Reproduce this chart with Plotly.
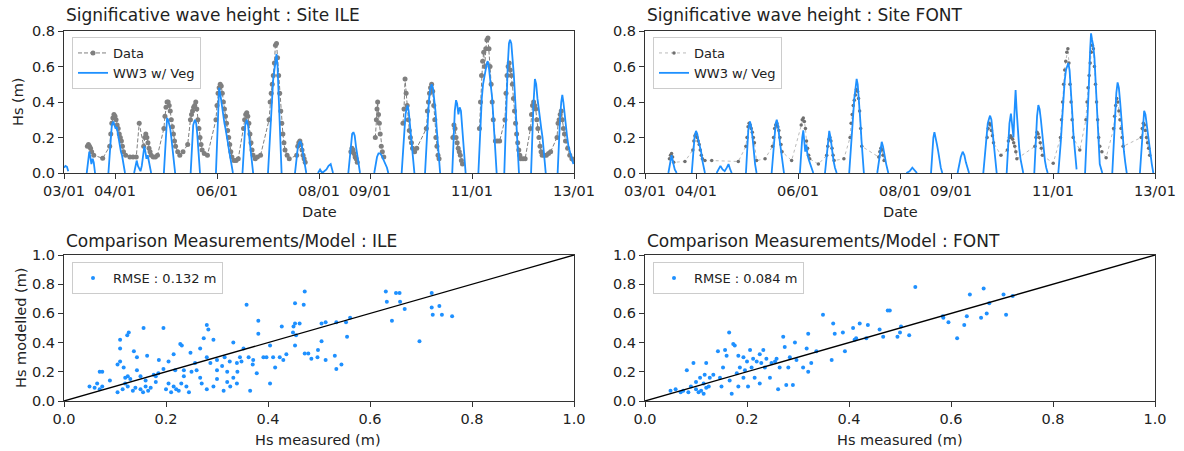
import plotly.graph_objects as go
import pandas as pd

# ---------------- DATA ----------------
# hours after 03/01 00:00, value (m)
ile_model = [
    [(0, 0.03), (0.7, 0.04), (1.4, 0.035), (2, 0.01)],
    [(10.7, 0.0), (11.3, 0.06), (11.9, 0.12), (12.4, 0.09), (12.9, 0.05), (13.5, 0.08), (14, 0.06), (14.6, 0.0)],
    [(20.9, 0.0), (21.5, 0.1), (22, 0.2), (22.5, 0.27), (23.2, 0.29), (23.8, 0.27), (24.3, 0.25), (24.8, 0.26),
     (25.3, 0.22), (25.8, 0.2), (26.3, 0.15), (26.8, 0.12), (27.3, 0.1), (27.8, 0.06), (28.4, 0.02), (28.7, 0.0)],
    [(33, 0.0), (33.5, 0.03), (34.2, 0.07), (34.8, 0.04), (35.4, 0.02), (36, 0.01), (36.6, 0.04), (37.2, 0.1),
     (37.8, 0.15), (38.3, 0.12), (38.8, 0.08), (39.4, 0.1), (40, 0.06), (40.6, 0.03), (41, 0.0)],
    [(47, 0.0), (47.5, 0.12), (48, 0.25), (48.5, 0.31), (49, 0.3), (49.5, 0.28), (50, 0.25), (50.5, 0.2),
     (51, 0.15), (51.5, 0.1), (52, 0.04), (52.3, 0.0)],
    [(59.6, 0.0), (60.2, 0.15), (60.8, 0.27), (61.6, 0.3), (62.2, 0.28), (62.7, 0.22), (63.2, 0.15), (63.6, 0.08), (64, 0.0)],
    [(71.5, 0.0), (72, 0.2), (72.5, 0.38), (73, 0.48), (73.5, 0.45), (74, 0.4), (74.5, 0.35), (75, 0.33), (75.5, 0.28),
     (76, 0.25), (76.5, 0.2), (77, 0.18), (77.5, 0.14), (78, 0.1), (78.5, 0.08), (79, 0.04), (79.5, 0.0)],
    [(84, 0.0), (84.6, 0.15), (85.3, 0.27), (86, 0.3), (86.6, 0.27), (87.2, 0.2), (87.8, 0.12), (88.4, 0.06), (89, 0.0)],
    [(96, 0.0), (96.6, 0.15), (97.2, 0.3), (97.8, 0.42), (98.4, 0.52), (99, 0.58), (99.5, 0.62), (100, 0.67),
     (100.5, 0.6), (101, 0.45), (101.5, 0.3), (102, 0.12), (102.4, 0.0)],
    [(108.7, 0.0), (109.3, 0.08), (110, 0.14), (110.6, 0.17), (111.2, 0.18), (111.8, 0.16), (112.4, 0.12),
     (113, 0.08), (113.6, 0.04), (114, 0.0)],
    [(119.5, 0.0), (120.5, 0.02), (121.5, 0.0), (123.5, 0.02), (124.5, 0.04), (125.5, 0.05), (126.6, 0.0)],
    [(133.8, 0.0), (134.4, 0.08), (135, 0.17), (135.6, 0.22), (136.2, 0.23), (136.8, 0.21), (137.4, 0.15),
     (138, 0.1), (138.7, 0.05), (139.3, 0.0)],
    [(146, 0.0), (146.6, 0.05), (147.3, 0.09), (148, 0.11), (148.7, 0.11), (149.4, 0.1), (150.1, 0.08),
     (150.8, 0.07), (151.5, 0.05), (152, 0.03), (152.6, 0.0)],
    [(158.9, 0.0), (159.5, 0.12), (160.1, 0.25), (160.7, 0.33), (161.2, 0.36), (161.7, 0.38), (162.2, 0.35),
     (162.7, 0.28), (163.2, 0.2), (163.7, 0.12), (164.3, 0.05), (164.9, 0.0)],
    [(169.9, 0.0), (170.5, 0.15), (171.1, 0.3), (171.7, 0.4), (172.3, 0.47), (173, 0.5), (173.6, 0.48),
     (174.2, 0.42), (174.8, 0.35), (175.4, 0.25), (176, 0.15), (176.5, 0.07), (177, 0.0)],
    [(182.7, 0.0), (183.3, 0.2), (183.9, 0.35), (184.5, 0.41), (185, 0.39), (185.6, 0.33), (186.2, 0.37),
     (186.8, 0.35), (187.4, 0.25), (188, 0.15), (188.5, 0.06), (189, 0.0)],
    [(195, 0.0), (195.5, 0.15), (196, 0.3), (196.6, 0.42), (197.2, 0.5), (197.8, 0.55), (198.4, 0.58), (199, 0.62),
     (199.4, 0.63), (199.9, 0.6), (200.4, 0.55), (200.9, 0.5), (201.5, 0.42), (202.1, 0.3), (202.7, 0.18),
     (203.2, 0.08), (203.6, 0.0)],
    [(207.2, 0.0), (207.7, 0.2), (208.2, 0.4), (208.8, 0.6), (209.4, 0.73), (209.9, 0.75), (210.5, 0.73),
     (211.1, 0.65), (211.7, 0.55), (212.3, 0.42), (212.9, 0.3), (213.5, 0.15), (214.1, 0.0)],
    [(219.8, 0.0), (220.3, 0.2), (220.9, 0.38), (221.6, 0.53), (222.2, 0.5), (222.8, 0.42), (223.4, 0.35),
     (224, 0.3), (224.6, 0.25), (225.2, 0.2), (225.8, 0.12), (226.3, 0.05), (226.7, 0.0)],
    [(232.3, 0.0), (232.8, 0.15), (233.4, 0.3), (234, 0.4), (234.5, 0.44), (235, 0.4), (235.6, 0.32),
     (236.2, 0.25), (236.8, 0.2), (237.4, 0.15), (238, 0.12), (238.6, 0.1), (239.2, 0.07), (239.7, 0.05)],
]

ile_data = [
    [(11, 0.15), (11.5, 0.16), (12, 0.15), (12.5, 0.14), (13, 0.12), (14, 0.1), (18.2, 0.083), (21.5, 0.15),
     (22, 0.22), (22.5, 0.28), (23, 0.31), (23.5, 0.33), (24, 0.32), (24.5, 0.3), (25, 0.27), (25.5, 0.25),
     (26, 0.22), (26.5, 0.2), (27, 0.18), (27.5, 0.15), (28, 0.12), (29, 0.1), (31, 0.09), (32.5, 0.09),
     (34, 0.09), (35.4, 0.28), (37.5, 0.15), (38, 0.2), (38.5, 0.22), (39, 0.2), (39.5, 0.17), (40, 0.14),
     (40.5, 0.12), (41, 0.1), (42, 0.09), (43, 0.09), (44, 0.1), (47, 0.25), (47.5, 0.32), (48, 0.37),
     (48.5, 0.4), (49, 0.4), (49.5, 0.38), (50, 0.35), (50.5, 0.3), (51, 0.26), (51.5, 0.22), (52, 0.18),
     (52.5, 0.15), (53.5, 0.12), (54.5, 0.1), (56, 0.12), (58.2, 0.16), (59.5, 0.3), (60, 0.33), (60.5, 0.35),
     (61, 0.37), (61.5, 0.38), (62, 0.4), (62.5, 0.36), (63, 0.3), (63.5, 0.25), (64, 0.2), (64.5, 0.16),
     (65, 0.13), (66, 0.11), (67.5, 0.1), (71.5, 0.3), (72, 0.38), (72.5, 0.45), (73, 0.48), (73.5, 0.5),
     (74, 0.49), (74.5, 0.45), (75, 0.4), (75.5, 0.36), (76, 0.32), (76.5, 0.28), (77, 0.24), (77.5, 0.2),
     (78, 0.16), (78.5, 0.12), (79, 0.09), (80, 0.07), (81, 0.07), (82, 0.08), (84.5, 0.25), (85, 0.3),
     (85.5, 0.33), (86, 0.34), (86.5, 0.32), (87, 0.28), (87.5, 0.22), (88, 0.17), (88.5, 0.13), (89, 0.1),
     (90, 0.08), (91, 0.09), (92.5, 0.1), (96.5, 0.3), (97, 0.4), (97.5, 0.45), (98, 0.5), (98.5, 0.55),
     (99, 0.62), (99.5, 0.72), (100, 0.73), (100.5, 0.65), (101, 0.55), (101.5, 0.45), (102, 0.35),
     (102.5, 0.28), (103, 0.22), (103.5, 0.17), (104, 0.13), (105, 0.1), (106, 0.08), (109.5, 0.1),
     (110, 0.15), (110.5, 0.17), (111, 0.18), (111.5, 0.16), (112, 0.13), (112.5, 0.1), (113, 0.08), (113.5, 0.06)],
    [(135, 0.12), (135.5, 0.14), (136, 0.13), (136.5, 0.11), (137, 0.09), (137.5, 0.08), (138, 0.06)],
    [(146.5, 0.2), (147, 0.3), (147.3, 0.36), (147.6, 0.4), (148, 0.33), (148.4, 0.28), (148.8, 0.22),
     (149.3, 0.15), (149.8, 0.12), (150.5, 0.09)],
    [(159.5, 0.28), (160, 0.36), (160.5, 0.53), (161, 0.45), (161.5, 0.38), (162, 0.3), (162.5, 0.24),
     (163, 0.2), (163.5, 0.17), (164, 0.14), (165, 0.12), (166, 0.14), (170.5, 0.25), (171, 0.35), (171.5, 0.4),
     (172, 0.45), (172.5, 0.48), (173, 0.5), (173.5, 0.46), (174, 0.38), (174.5, 0.3), (175, 0.2), (175.5, 0.15),
     (176, 0.1), (176.5, 0.08)],
    [(183, 0.2), (183.5, 0.27), (184, 0.25), (184.5, 0.2), (185, 0.17), (185.5, 0.14), (186, 0.12),
     (186.5, 0.1), (187, 0.07), (187.5, 0.05)],
    [(195.5, 0.25), (196, 0.4), (196.5, 0.55), (197, 0.63), (197.5, 0.68), (198, 0.6), (198.5, 0.7),
     (199, 0.75), (199.5, 0.76), (200, 0.7), (200.5, 0.6), (201, 0.5), (201.5, 0.4), (202, 0.3), (203, 0.18),
     (204, 0.18), (205, 0.18), (207.5, 0.3), (208, 0.45), (208.5, 0.55), (209, 0.6), (209.5, 0.62), (210, 0.58),
     (210.5, 0.55), (211, 0.5), (211.5, 0.42), (212, 0.35), (212.5, 0.28), (213, 0.22), (213.5, 0.17),
     (214, 0.13), (214.5, 0.1), (215, 0.08), (216, 0.08), (217, 0.08), (219.5, 0.25), (220, 0.33),
     (220.5, 0.38), (221, 0.4), (221.5, 0.38), (222, 0.36), (222.5, 0.3), (223, 0.25), (223.5, 0.2),
     (224, 0.15), (224.5, 0.12), (225, 0.1), (226, 0.1), (227, 0.1), (228, 0.11), (229, 0.12), (232, 0.2),
     (232.5, 0.28), (233, 0.3), (233.5, 0.33), (234, 0.35), (234.5, 0.3), (235, 0.25), (235.5, 0.22),
     (236, 0.18), (237, 0.14), (238, 0.1), (239, 0.08), (240, 0.07)],
]

font_model = [
    [(11, 0.0), (11.6, 0.05), (12.5, 0.1), (13.2, 0.06), (14, 0.02), (14.9, 0.0)],
    [(22, 0.0), (22.6, 0.1), (23.3, 0.2), (24, 0.237), (24.6, 0.22), (25.2, 0.18), (25.8, 0.15), (26.4, 0.12),
     (27, 0.07), (27.6, 0.03), (28.2, 0.0)],
    [(33.7, 0.0), (34.5, 0.02), (35.5, 0.04), (36.5, 0.02), (37.5, 0.01), (38.5, 0.03), (39.3, 0.05), (40.1, 0.02), (40.8, 0.0)],
    [(47.5, 0.0), (48, 0.12), (48.6, 0.24), (49.4, 0.29), (50, 0.26), (50.6, 0.2), (51.2, 0.12), (51.8, 0.05), (52.5, 0.0)],
    [(59.6, 0.0), (60.2, 0.1), (60.9, 0.22), (61.5, 0.28), (62, 0.3), (62.6, 0.27), (63.2, 0.2), (63.8, 0.14),
     (64.5, 0.06), (65.4, 0.0)],
    [(72.9, 0.0), (73.5, 0.12), (74, 0.2), (74.5, 0.24), (75, 0.18), (75.4, 0.12), (75.9, 0.16), (76.5, 0.1),
     (77.2, 0.07), (78, 0.04), (79.2, 0.0)],
    [(84.7, 0.0), (85.3, 0.08), (86, 0.17), (86.7, 0.237), (87.3, 0.2), (88, 0.13), (88.7, 0.07), (89.4, 0.03), (90.2, 0.0)],
    [(96.1, 0.0), (96.7, 0.12), (97.3, 0.25), (97.9, 0.35), (98.5, 0.42), (99.1, 0.48), (99.6, 0.53), (100.1, 0.5),
     (100.7, 0.42), (101.3, 0.3), (101.9, 0.18), (102.5, 0.07), (103, 0.0)],
    [(109.3, 0.0), (109.9, 0.06), (110.6, 0.13), (111.4, 0.176), (112, 0.15), (112.7, 0.1), (113.5, 0.05), (114.5, 0.0)],
    [(123, 0.0), (124.5, 0.01), (125.8, 0.03), (126.8, 0.015), (128, 0.0)],
    [(134.6, 0.0), (135.2, 0.12), (135.7, 0.2), (136.2, 0.23), (136.8, 0.2), (137.4, 0.16), (138, 0.12),
     (138.6, 0.07), (139.2, 0.03), (139.9, 0.0)],
    [(147.1, 0.0), (147.8, 0.04), (148.6, 0.09), (149.5, 0.12), (150.3, 0.1), (151, 0.06), (151.8, 0.03), (152.5, 0.0)],
    [(159.2, 0.0), (159.8, 0.08), (160.5, 0.2), (161.3, 0.28), (162, 0.31), (162.4, 0.323), (163, 0.3),
     (163.6, 0.22), (164.2, 0.15), (164.8, 0.07), (165.5, 0.0)],
    [(170.2, 0.0), (170.8, 0.15), (171.5, 0.28), (172.2, 0.335), (172.8, 0.25), (173.4, 0.2), (173.9, 0.35),
     (174.4, 0.467), (174.9, 0.35), (175.5, 0.22), (176.1, 0.14), (176.7, 0.08), (177.3, 0.04), (178, 0.0)],
    [(183.2, 0.0), (183.8, 0.15), (184.5, 0.32), (185.1, 0.383), (185.7, 0.36), (186.3, 0.3), (186.9, 0.22),
     (187.5, 0.14), (188.2, 0.07), (188.8, 0.03), (189.5, 0.0)],
    [(194.5, 0.0), (195.1, 0.08), (195.7, 0.18), (196.3, 0.3), (196.9, 0.42), (197.5, 0.52), (198.1, 0.58),
     (198.7, 0.61), (199.2, 0.62), (199.8, 0.58), (200.4, 0.48), (201, 0.35), (201.6, 0.22), (202.2, 0.12),
     (202.7, 0.05), (203.1, 0.02)],
    [(207.1, 0.0), (207.7, 0.15), (208.3, 0.32), (208.9, 0.5), (209.5, 0.7), (209.9, 0.787), (210.4, 0.75),
     (210.9, 0.72), (211.5, 0.65), (212.1, 0.5), (212.7, 0.3), (213.3, 0.15), (214, 0.05), (215.2, 0.0)],
    [(219.9, 0.0), (220.5, 0.15), (221.2, 0.32), (221.8, 0.45), (222.4, 0.51), (223, 0.48), (223.6, 0.4),
     (224.2, 0.3), (224.8, 0.2), (225.4, 0.12), (226, 0.06), (226.7, 0.0)],
    [(232.9, 0.0), (233.5, 0.12), (234.2, 0.28), (234.9, 0.35), (235.5, 0.33), (236.1, 0.27), (236.7, 0.2),
     (237.3, 0.14), (237.9, 0.09), (238.5, 0.05), (239.2, 0.0)],
]

font_data = [
    [(11.5, 0.08), (12, 0.1), (12.5, 0.11), (13, 0.09), (13.5, 0.06), (18.8, 0.065), (22.5, 0.13), (23, 0.18),
     (23.5, 0.21), (24, 0.22), (24.5, 0.2), (25, 0.18), (25.5, 0.16), (26, 0.13), (26.5, 0.1), (27, 0.08),
     (28.2, 0.07), (31.4, 0.07), (43.9, 0.065), (47.5, 0.15), (48, 0.2), (48.5, 0.26), (49, 0.28), (49.5, 0.27),
     (50, 0.25), (50.5, 0.23), (51, 0.2), (51.5, 0.17), (52.5, 0.07), (56.5, 0.08), (60, 0.15), (60.5, 0.2),
     (61, 0.25), (61.5, 0.27), (62, 0.28), (62.5, 0.26), (63, 0.24), (63.5, 0.2), (64, 0.16), (64.5, 0.12),
     (69, 0.07), (73.5, 0.27), (74, 0.3), (74.5, 0.31), (75, 0.29), (75.5, 0.25), (76, 0.18), (76.5, 0.14),
     (77, 0.1), (77.5, 0.08), (81.6, 0.05), (85.5, 0.1), (86, 0.15), (86.5, 0.19), (87, 0.2), (87.5, 0.18),
     (88, 0.14), (88.5, 0.1), (89, 0.07), (93.6, 0.08), (96.5, 0.2), (97, 0.28), (97.5, 0.33), (98, 0.38),
     (98.5, 0.41), (99, 0.44), (99.5, 0.47), (100, 0.46), (100.5, 0.42), (101, 0.35), (101.5, 0.25),
     (102, 0.15), (110, 0.09), (110.5, 0.12), (111, 0.14), (111.5, 0.13), (112, 0.1), (112.5, 0.07)],
    [(161, 0.2), (161.5, 0.25), (162, 0.28), (162.5, 0.27), (163, 0.24), (163.5, 0.21), (164, 0.17),
     (167.5, 0.1), (170.5, 0.13), (171, 0.18), (171.5, 0.2), (172, 0.21), (172.5, 0.2), (173, 0.19),
     (173.5, 0.17), (174, 0.15), (174.5, 0.12), (175, 0.08), (183.5, 0.15), (184, 0.2), (184.5, 0.23),
     (185, 0.22), (185.5, 0.2), (186, 0.17), (186.5, 0.14), (187, 0.1), (192.1, 0.055), (195.5, 0.2),
     (196, 0.3), (196.5, 0.4), (197, 0.5), (197.5, 0.58), (198, 0.63), (198.5, 0.68), (199, 0.7), (199.5, 0.62),
     (200, 0.5), (200.5, 0.4), (201, 0.3), (201.5, 0.2), (204.6, 0.13), (207.5, 0.3), (208, 0.4), (208.5, 0.48),
     (209, 0.55), (209.5, 0.62), (210, 0.68), (210.5, 0.72), (211, 0.7), (211.5, 0.6), (212, 0.5), (212.5, 0.4),
     (213, 0.3), (213.5, 0.2), (214, 0.15), (215, 0.12), (217, 0.086), (220.5, 0.25), (221, 0.32),
     (221.5, 0.38), (222, 0.42), (222.5, 0.4), (223, 0.35), (223.5, 0.3), (224, 0.25), (224.5, 0.2),
     (225, 0.15), (233.5, 0.2), (234, 0.25), (234.5, 0.28), (235, 0.27), (235.5, 0.24), (236, 0.2),
     (236.5, 0.17), (237, 0.14), (237.5, 0.1)],
]

ile_scatter = [
    (0.05, 0.1), (0.06, 0.09), (0.07, 0.08), (0.065, 0.12), (0.075, 0.1), (0.075, 0.2), (0.07, 0.2), (0.09, 0.14),
    (0.105, 0.25), (0.11, 0.27), (0.11, 0.36), (0.11, 0.42), (0.127, 0.47), (0.124, 0.45), (0.117, 0.23),
    (0.12, 0.16), (0.125, 0.17), (0.13, 0.15), (0.105, 0.06), (0.115, 0.08), (0.125, 0.1), (0.135, 0.07),
    (0.14, 0.09), (0.137, 0.34), (0.143, 0.3), (0.143, 0.21), (0.15, 0.17), (0.156, 0.5), (0.163, 0.31),
    (0.15, 0.08), (0.155, 0.06), (0.165, 0.07), (0.17, 0.09), (0.16, 0.1), (0.176, 0.18), (0.18, 0.17),
    (0.185, 0.19), (0.186, 0.28), (0.195, 0.5), (0.195, 0.22), (0.205, 0.27), (0.2, 0.08), (0.205, 0.12),
    (0.21, 0.06), (0.215, 0.1), (0.22, 0.08), (0.225, 0.07), (0.215, 0.32), (0.218, 0.21), (0.228, 0.39),
    (0.231, 0.38), (0.235, 0.21), (0.235, 0.17), (0.24, 0.1), (0.245, 0.06), (0.248, 0.33), (0.257, 0.26),
    (0.26, 0.21), (0.267, 0.36), (0.267, 0.16), (0.274, 0.43), (0.28, 0.52), (0.283, 0.49), (0.28, 0.3),
    (0.287, 0.26), (0.293, 0.42), (0.293, 0.1), (0.3, 0.21), (0.3, 0.28), (0.31, 0.24), (0.315, 0.3),
    (0.32, 0.2), (0.325, 0.27), (0.313, 0.07), (0.326, 0.1), (0.332, 0.4), (0.339, 0.26), (0.332, 0.16),
    (0.339, 0.12), (0.345, 0.3), (0.348, 0.27), (0.352, 0.36), (0.358, 0.66), (0.362, 0.3), (0.365, 0.07),
    (0.371, 0.28), (0.378, 0.19), (0.381, 0.55), (0.381, 0.46), (0.391, 0.3), (0.397, 0.3), (0.404, 0.38),
    (0.404, 0.12), (0.41, 0.3), (0.414, 0.23), (0.423, 0.3), (0.427, 0.51), (0.43, 0.28), (0.436, 0.32),
    (0.453, 0.67), (0.453, 0.53), (0.453, 0.38), (0.12, 0.12), (0.18, 0.13), (0.23, 0.12), (0.27, 0.12),
    (0.3, 0.15), (0.34, 0.2), (0.37, 0.25), (0.25, 0.2), (0.16, 0.14), (0.28, 0.08), (0.32, 0.13),
    (0.472, 0.75), (0.47, 0.66), (0.462, 0.53), (0.45, 0.51), (0.449, 0.47), (0.455, 0.45), (0.472, 0.325),
    (0.479, 0.325), (0.485, 0.29), (0.497, 0.3), (0.498, 0.35), (0.505, 0.53), (0.505, 0.41), (0.513, 0.54),
    (0.513, 0.28), (0.531, 0.31), (0.534, 0.54), (0.534, 0.22), (0.544, 0.25), (0.553, 0.54), (0.555, 0.44),
    (0.561, 0.57), (0.631, 0.75), (0.633, 0.68), (0.643, 0.55), (0.651, 0.74), (0.658, 0.74), (0.659, 0.68),
    (0.668, 0.63), (0.697, 0.41), (0.721, 0.74), (0.721, 0.64), (0.723, 0.59), (0.736, 0.65), (0.741, 0.59),
    (0.761, 0.58),
]

font_scatter = [
    (0.05, 0.07), (0.06, 0.08), (0.07, 0.06), (0.075, 0.07), (0.085, 0.06), (0.082, 0.21), (0.095, 0.26),
    (0.09, 0.1), (0.1, 0.08), (0.105, 0.06), (0.11, 0.07), (0.115, 0.05), (0.12, 0.09), (0.1, 0.13),
    (0.115, 0.12), (0.125, 0.1), (0.108, 0.16), (0.117, 0.18), (0.12, 0.26), (0.127, 0.16), (0.134, 0.18),
    (0.143, 0.34), (0.147, 0.16), (0.15, 0.1), (0.153, 0.23), (0.157, 0.35), (0.16, 0.31), (0.165, 0.47),
    (0.166, 0.14), (0.17, 0.05), (0.173, 0.39), (0.176, 0.38), (0.18, 0.19), (0.183, 0.31), (0.183, 0.1),
    (0.186, 0.23), (0.193, 0.3), (0.193, 0.16), (0.196, 0.21), (0.2, 0.27), (0.202, 0.1), (0.206, 0.35),
    (0.209, 0.23), (0.212, 0.29), (0.215, 0.16), (0.219, 0.27), (0.225, 0.32), (0.225, 0.12), (0.228, 0.26),
    (0.232, 0.35), (0.235, 0.23), (0.238, 0.29), (0.245, 0.16), (0.248, 0.26), (0.255, 0.27), (0.258, 0.29),
    (0.261, 0.08), (0.264, 0.23), (0.271, 0.44), (0.274, 0.37), (0.277, 0.11), (0.281, 0.23), (0.284, 0.3),
    (0.29, 0.11), (0.294, 0.4), (0.297, 0.28), (0.31, 0.23), (0.317, 0.36), (0.32, 0.2), (0.32, 0.46),
    (0.326, 0.26), (0.336, 0.34), (0.349, 0.59), (0.366, 0.28), (0.369, 0.53), (0.372, 0.46), (0.388, 0.47),
    (0.392, 0.34), (0.408, 0.5), (0.411, 0.42), (0.414, 0.43), (0.421, 0.53), (0.434, 0.43), (0.437, 0.52),
    (0.46, 0.49), (0.467, 0.44), (0.476, 0.62), (0.48, 0.62), (0.495, 0.44), (0.5, 0.47), (0.502, 0.51),
    (0.518, 0.45), (0.53, 0.78), (0.584, 0.58), (0.585, 0.57), (0.595, 0.54), (0.612, 0.43), (0.626, 0.52),
    (0.631, 0.58), (0.637, 0.73), (0.659, 0.57), (0.664, 0.77), (0.67, 0.6), (0.675, 0.67), (0.703, 0.73),
    (0.708, 0.59), (0.721, 0.72),
]

date_ticks = ["2018-01-03", "2018-01-04", "2018-01-06", "2018-01-08", "2018-01-09", "2018-01-11", "2018-01-13"]

# ---------------- HELPERS ----------------
T0 = pd.Timestamp("2018-01-03")


def to_xy(segments):
    xs, ys = [], []
    for seg in segments:
        for h, v in seg:
            xs.append(T0 + pd.Timedelta(hours=h))
            ys.append(v)
        xs.append(None)
        ys.append(None)
    return xs, ys


BLUE = "#1E90FF"
GRAY = "#7f7f7f"
FONT = "DejaVu Sans"
W, H = 1184, 451


def px(x):
    return x / W


def py(y):
    return 1 - y / H


fig = go.Figure()

# top-left
x, y = to_xy(ile_data)
fig.add_trace(go.Scatter(x=x, y=y, mode="lines+markers", name="Data", xaxis="x", yaxis="y",
                         line=dict(color=GRAY, width=1, dash="4px,2px"),
                         marker=dict(color=GRAY, size=5), legend="legend", connectgaps=False))
x, y = to_xy(ile_model)
fig.add_trace(go.Scatter(x=x, y=y, mode="lines", name="WW3 w/ Veg", xaxis="x", yaxis="y",
                         line=dict(color=BLUE, width=1.8), legend="legend", connectgaps=False))
# top-right
x, y = to_xy(font_data)
fig.add_trace(go.Scatter(x=x, y=y, mode="lines+markers", name="Data", xaxis="x2", yaxis="y2",
                         line=dict(color="#a8a8a8", width=0.8, dash="dot"),
                         marker=dict(color="#6f6f6f", size=3.5), legend="legend2", connectgaps=False))
x, y = to_xy(font_model)
fig.add_trace(go.Scatter(x=x, y=y, mode="lines", name="WW3 w/ Veg", xaxis="x2", yaxis="y2",
                         line=dict(color=BLUE, width=1.8), legend="legend2", connectgaps=False))
# bottom-left
fig.add_trace(go.Scatter(x=[p[0] for p in ile_scatter], y=[p[1] for p in ile_scatter], mode="markers",
                         name="RMSE : 0.132 m", xaxis="x3", yaxis="y3",
                         marker=dict(color=BLUE, size=4), legend="legend3"))
fig.add_trace(go.Scatter(x=[0, 1], y=[0, 1], mode="lines", showlegend=False, xaxis="x3", yaxis="y3",
                         line=dict(color="black", width=1.3)))
# bottom-right
fig.add_trace(go.Scatter(x=[p[0] for p in font_scatter], y=[p[1] for p in font_scatter], mode="markers",
                         name="RMSE : 0.084 m", xaxis="x4", yaxis="y4",
                         marker=dict(color=BLUE, size=4), legend="legend4"))
fig.add_trace(go.Scatter(x=[0, 1], y=[0, 1], mode="lines", showlegend=False, xaxis="x4", yaxis="y4",
                         line=dict(color="black", width=1.3)))

axis_common = dict(showline=True, linecolor="#333", linewidth=1, mirror=True, ticks="outside",
                   ticklen=5, tickwidth=1, tickcolor="#333", showgrid=False, zeroline=False,
                   automargin=False, tickfont=dict(family=FONT, size=14.5, color="#222"))

top_dom = [py(173), py(31)]
bot_dom = [py(401), py(255)]
left_dom = [px(64), px(574)]
right_dom = [px(645), px(1155)]

date_x = dict(type="date", range=[T0, T0 + pd.Timedelta(days=10)], tickvals=date_ticks,
              tickformat="%d/%m", **axis_common)
top_y = dict(range=[0, 0.8], tickvals=[0, 0.2, 0.4, 0.6, 0.8], tickformat=".1f", **axis_common)
sc = dict(range=[0, 1], tickvals=[0, 0.2, 0.4, 0.6, 0.8, 1.0], tickformat=".1f", **axis_common)

legend_common = dict(bgcolor="rgba(255,255,255,0.85)", bordercolor="#cccccc", borderwidth=1,
                     font=dict(family=FONT, size=13, color="#222"), xanchor="left", yanchor="top",
                     xref="paper", yref="paper", tracegroupgap=0)

fig.update_layout(
    template="none",
    width=W, height=H, margin=dict(l=0, r=0, t=0, b=0, autoexpand=False),
    paper_bgcolor="white", plot_bgcolor="white",
    font=dict(family=FONT, color="#222"),
    xaxis=dict(domain=left_dom, anchor="y", **date_x),
    yaxis=dict(domain=top_dom, anchor="x", **top_y),
    xaxis2=dict(domain=right_dom, anchor="y2", **date_x),
    yaxis2=dict(domain=top_dom, anchor="x2", **top_y),
    xaxis3=dict(domain=left_dom, anchor="y3", **sc),
    yaxis3=dict(domain=bot_dom, anchor="x3", **sc),
    xaxis4=dict(domain=right_dom, anchor="y4", **sc),
    yaxis4=dict(domain=bot_dom, anchor="x4", **sc),
    legend=dict(x=px(72), y=py(37), **legend_common),
    legend2=dict(x=px(653), y=py(37), **legend_common),
    legend3=dict(x=px(72), y=py(262), **legend_common),
    legend4=dict(x=px(653), y=py(262), **legend_common),
    showlegend=True,
)

texts = [
    ("Significative wave height : Site ILE", px(64), py(15), 17, 0, "left"),
    ("Significative wave height : Site FONT", px(645), py(15), 17, 0, "left"),
    ("Comparison Measurements/Model : ILE", px(64), py(241), 17, 0, "left"),
    ("Comparison Measurements/Model : FONT", px(645), py(241), 17, 0, "left"),
    ("Date", px(319), py(212), 14.5, 0, "center"),
    ("Date", px(900), py(212), 14.5, 0, "center"),
    ("Hs measured (m)", px(318), py(440), 14.5, 0, "center"),
    ("Hs measured (m)", px(900), py(440), 14.5, 0, "center"),
    ("Hs (m)", px(18), py(102), 14.5, -90, "center"),
    ("Hs modelled (m)", px(21), py(328), 14.5, -90, "center"),
]
for t, xx, yy, s, ang, anc in texts:
    fig.add_annotation(text=t, x=xx, y=yy, xref="paper", yref="paper", showarrow=False,
                       xanchor=anc, yanchor="middle", textangle=ang,
                       font=dict(family=FONT, size=s, color="#222"))

fig.write_html("out.html", config={"displayModeBar": False},
               post_script="document.body.style.margin='0';document.body.style.overflow='hidden';")
